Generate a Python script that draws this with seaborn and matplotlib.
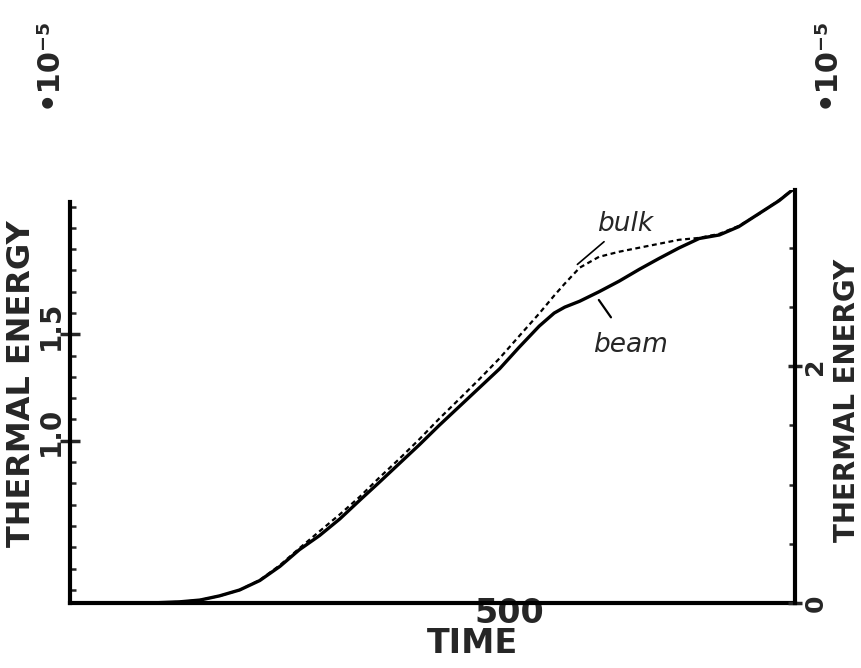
import numpy as np
import pandas as pd
import matplotlib
matplotlib.use("Agg")
import matplotlib.pyplot as plt
import matplotlib.transforms as mtransforms
from matplotlib.ticker import FixedLocator, MultipleLocator
import seaborn as sns

# time samples shared by both traces
time = [0, 91, 125, 148, 170, 193, 216, 239, 261, 284, 307, 330, 352, 375,
        398, 420, 443, 466, 489, 511, 534, 551, 563, 580, 602, 625, 648, 670,
        693, 716, 739, 761, 784, 807, 822]

# bulk thermal energy (left axis, units of 1e-5)
bulk = [0.238, 0.240, 0.243, 0.252, 0.271, 0.299, 0.346, 0.416, 0.495, 0.575,
        0.654, 0.738, 0.827, 0.916, 1.009, 1.103, 1.196, 1.290, 1.388, 1.491,
        1.598, 1.682, 1.738, 1.813, 1.864, 1.888, 1.907, 1.925, 1.944, 1.953,
        1.972, 2.009, 2.065, 2.131, 2.178]

# beam thermal energy (right axis, units of 1e-5)
beam = [0.0, 0.0, 0.01, 0.025, 0.06, 0.11, 0.19, 0.31, 0.45, 0.57, 0.71, 0.87,
        1.02, 1.18, 1.34, 1.50, 1.66, 1.82, 1.98, 2.16, 2.34, 2.45, 2.50, 2.55,
        2.63, 2.72, 2.82, 2.91, 3.00, 3.08, 3.11, 3.18, 3.29, 3.40, 3.49]

x_ticks = [500]
x_tick_labels = ["500"]
left_ticks = [1.0, 1.5]
left_tick_labels = ["1.0", "1.5"]
right_ticks = [0, 2]
right_tick_labels = ["0", "2"]

df = pd.DataFrame({"time": time, "bulk": bulk, "beam": beam})

sns.set_style("white")
plt.rcParams["font.family"] = ["DejaVu Sans"]
plt.rcParams["font.weight"] = "bold"

fig = plt.figure(figsize=(8.61, 6.68), dpi=100)
ax = fig.add_axes([0.0813, 0.0973, 0.8420, 0.6183])
ax2 = ax.twinx()

sns.lineplot(data=df, x="time", y="bulk", ax=ax, color="black",
             linewidth=1.6, linestyle=(0, (2.2, 1.6)))
sns.lineplot(data=df, x="time", y="beam", ax=ax2, color="black",
             linewidth=2.4)

ax.set_xlim(0, 825)
ax.set_ylim(0.238, 2.178)
ax2.set_ylim(0, 3.49)

for a in (ax, ax2):
    for s in a.spines.values():
        s.set_linewidth(3)
        s.set_color("black")
    a.spines["top"].set_visible(False)
ax.spines["right"].set_visible(False)
ax2.spines["left"].set_visible(False)
ax2.spines["bottom"].set_visible(False)
ax.spines["left"].set_bounds(0.238, 2.12)

# x axis
ax.xaxis.set_major_locator(FixedLocator(x_ticks))
ax.set_xticklabels(x_tick_labels, fontsize=24, fontweight="bold")
ax.tick_params(axis="x", direction="in", length=9, width=2.5, pad=-4)
ax.set_xlabel("TIME", fontsize=24, fontweight="bold")
ax.xaxis.set_label_coords(0.555, -0.058)

# left axis
ax.yaxis.set_major_locator(FixedLocator(left_ticks))
ax.yaxis.set_minor_locator(MultipleLocator(0.1))
ax.set_yticklabels(left_tick_labels, fontsize=20, fontweight="bold",
                   rotation=90, va="center")
ax.tick_params(axis="y", which="major", direction="inout", length=14,
               width=2.5, pad=-3)
ax.tick_params(axis="y", which="minor", direction="in", length=4, width=1.8)
shift_up = mtransforms.ScaledTranslation(0, 9 / 100, fig.dpi_scale_trans)
for lbl in ax.get_yticklabels():
    lbl.set_transform(lbl.get_transform() + shift_up)
ax.set_ylabel("THERMAL ENERGY", fontsize=23, fontweight="bold")
ax.yaxis.set_label_coords(-0.046, 0.53)

# right axis
ax2.yaxis.set_major_locator(FixedLocator(right_ticks))
ax2.yaxis.set_minor_locator(MultipleLocator(0.5))
ax2.set_yticklabels(right_tick_labels, fontsize=18, fontweight="bold",
                    rotation=90, va="center")
ax2.tick_params(axis="y", which="major", direction="inout", length=10,
                width=2.5, pad=1)
ax2.tick_params(axis="y", which="minor", direction="in", length=4, width=1.8)
ax2.set_ylabel("THERMAL ENERGY", fontsize=20, fontweight="bold",
               rotation=90)
ax2.yaxis.set_label_coords(1.053, 0.49)

# scale factors
fig.text(0.055, 0.907, "•10⁻⁵", rotation=90, fontsize=22,
         fontweight="bold", ha="center", va="center")
fig.text(0.958, 0.907, "•10⁻⁵", rotation=90, fontsize=22,
         fontweight="bold", ha="center", va="center")

# hand annotations
ax.annotate("bulk", xy=(575, 1.82), xytext=(600, 2.02), fontsize=19,
            fontstyle="italic", fontweight="normal", ha="left", va="center",
            arrowprops=dict(arrowstyle="-", color="black", lw=1.2))
ax2.annotate("beam", xy=(600, 2.58), xytext=(595, 2.18), fontsize=19,
             fontstyle="italic", fontweight="normal", ha="left", va="center",
             arrowprops=dict(arrowstyle="-", color="black", lw=1.6,
                             shrinkA=10, shrinkB=2))

fig.savefig("out.png", dpi=100)
